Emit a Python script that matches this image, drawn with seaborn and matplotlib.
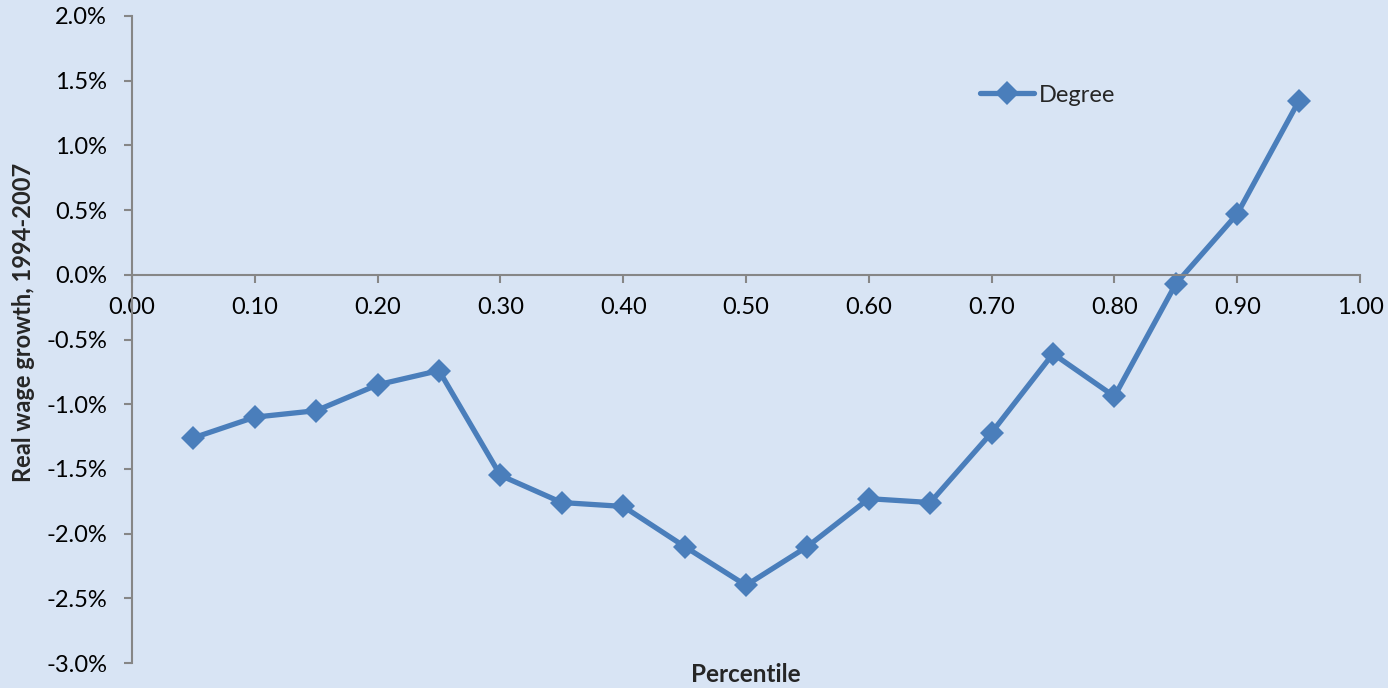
import matplotlib
matplotlib.use("Agg")
import matplotlib.pyplot as plt
import seaborn as sns
import pandas as pd
from matplotlib.ticker import PercentFormatter, MultipleLocator, FormatStrFormatter

# Real wage growth by percentile, 1994-2007 (percent per year)
percentiles = [0.05, 0.10, 0.15, 0.20, 0.25, 0.30, 0.35, 0.40, 0.45, 0.50,
               0.55, 0.60, 0.65, 0.70, 0.75, 0.80, 0.85, 0.90, 0.95]
degree_growth = [-1.26, -1.10, -1.05, -0.85, -0.74, -1.55, -1.76, -1.79, -2.10, -2.40,
                 -2.10, -1.73, -1.76, -1.22, -0.61, -0.94, -0.07, 0.47, 1.34]
series_name = "Degree"

bg = "#D8E4F4"
line_col = "#4A7EBB"
axis_col = "#868686"

sns.set_theme(style="white")
plt.rcParams["font.family"] = ["Lato", "DejaVu Sans"]
plt.rcParams["axes.unicode_minus"] = False

df = pd.DataFrame({"Percentile": percentiles, "Growth": degree_growth, "Series": series_name})

fig = plt.figure(figsize=(13.88, 6.88), dpi=100, facecolor=bg)
ax = fig.add_axes([132 / 1388, 1 - 663 / 688, (1360 - 132) / 1388, (663 - 16) / 688])
ax.set_facecolor(bg)

sns.lineplot(data=df, x="Percentile", y="Growth", hue="Series", palette=[line_col],
             marker="D", markersize=12, markeredgewidth=0, linewidth=3.8, ax=ax)

ax.set_xlim(0, 1.0)
ax.set_ylim(-3.0, 2.0)
ax.xaxis.set_major_locator(MultipleLocator(0.1))
ax.yaxis.set_major_locator(MultipleLocator(0.5))
ax.xaxis.set_major_formatter(FormatStrFormatter("%.2f"))
ax.yaxis.set_major_formatter(PercentFormatter(decimals=1))

for side in ("top", "right"):
    ax.spines[side].set_visible(False)
ax.spines["left"].set_position(("data", 0))
ax.spines["bottom"].set_position(("data", 0))
for side in ("left", "bottom"):
    ax.spines[side].set_color(axis_col)
    ax.spines[side].set_linewidth(1.5)

ax.tick_params(axis="both", which="major", direction="out", length=6, width=1.5,
               color=axis_col, labelsize=17, labelcolor="black")
ax.tick_params(axis="x", bottom=True, pad=10)
ax.tick_params(axis="y", left=True, pad=12)

ax.set_xlabel("")
ax.set_ylabel("")
fig.text(746 / 1388, 1 - 675 / 688, "Percentile", ha="center", va="center",
         fontsize=17.5, fontweight="bold")
fig.text(24 / 1388, 1 - 322 / 688, "Real wage growth, 1994-2007", ha="center", va="center",
         rotation=90, fontsize=17, fontweight="bold")

leg = ax.legend(loc="center left", bbox_to_anchor=(968 / 1388, 1 - 95 / 688),
                bbox_transform=fig.transFigure, frameon=False, fontsize=17,
                handlelength=2.3, handletextpad=0.2, borderpad=0)

fig.savefig("out.png", dpi=100, facecolor=bg)
